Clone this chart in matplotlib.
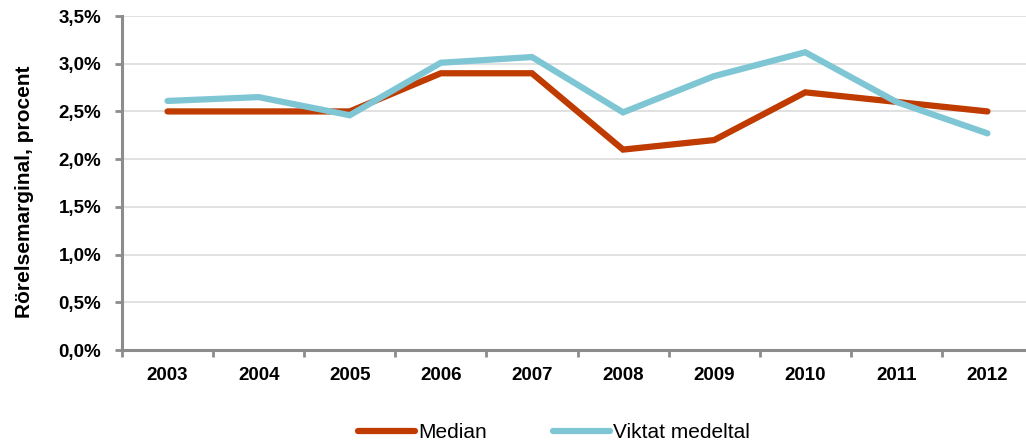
import numpy as np
import matplotlib.pyplot as plt
from matplotlib.ticker import FuncFormatter

plt.rcParams["font.family"] = ["Liberation Sans", "DejaVu Sans"]

# ── Data ──────────────────────────────────────────────────────────────────────
years = ["2003", "2004", "2005", "2006", "2007", "2008", "2009", "2010", "2011", "2012"]
median = [2.50, 2.50, 2.50, 2.90, 2.90, 2.10, 2.20, 2.70, 2.60, 2.50]
viktat = [2.61, 2.65, 2.46, 3.01, 3.07, 2.49, 2.87, 3.12, 2.60, 2.27]

c_median = "#BF3B00"
c_viktat = "#7FC6D5"
c_axis = "#8C8C8C"

# ── Figure ────────────────────────────────────────────────────────────────────
fig = plt.figure(figsize=(10.26, 4.43), dpi=100)
ax = fig.add_axes([122 / 1026, 93 / 443, 911 / 1026, 334 / 443])

x = np.arange(len(years))
ax.plot(x, median, color=c_median, linewidth=4.5, solid_capstyle="round",
        solid_joinstyle="miter", label="Median", zorder=3)
ax.plot(x, viktat, color=c_viktat, linewidth=4.5, solid_capstyle="round",
        solid_joinstyle="miter", label="Viktat medeltal", zorder=3)

ax.set_xlim(-0.5, len(years) - 0.5)
ax.set_ylim(0, 3.5)
ax.set_yticks(np.arange(0, 3.51, 0.5))
ax.yaxis.set_major_formatter(
    FuncFormatter(lambda v, _: f"{v:.1f}%".replace(".", ","))
)

# category axis: tick marks between categories, labels at centres
ax.set_xticks(np.arange(-0.5, len(years), 1.0))
ax.set_xticklabels([])
ax.set_xticks(x, minor=True)
ax.set_xticklabels(years, minor=True, fontsize=13.5, fontweight="bold")
ax.tick_params(axis="x", which="minor", length=0, pad=12)
ax.tick_params(axis="x", which="major", length=5, width=2, color=c_axis)
ax.tick_params(axis="y", length=5, width=2, color=c_axis, pad=10,
               labelsize=13.5)
for lbl in ax.get_yticklabels():
    lbl.set_fontweight("bold")

ax.grid(axis="y", color="#DCDCDC", linewidth=1.2)
ax.set_axisbelow(True)
for side in ["top", "right"]:
    ax.spines[side].set_visible(False)
for side in ["left", "bottom"]:
    ax.spines[side].set_color(c_axis)
    ax.spines[side].set_linewidth(2.2)

ax.set_ylabel("Rörelsemarginal, procent", fontsize=15, fontweight="bold")
ax.yaxis.set_label_coords(-0.097, 0.475)

fig.legend(loc="center", bbox_to_anchor=(554 / 1026, 10 / 443), ncol=2,
           frameon=False, fontsize=15, handlelength=2.7, handletextpad=0.15,
           columnspacing=3.2)

fig.savefig("out.png", dpi=100)
